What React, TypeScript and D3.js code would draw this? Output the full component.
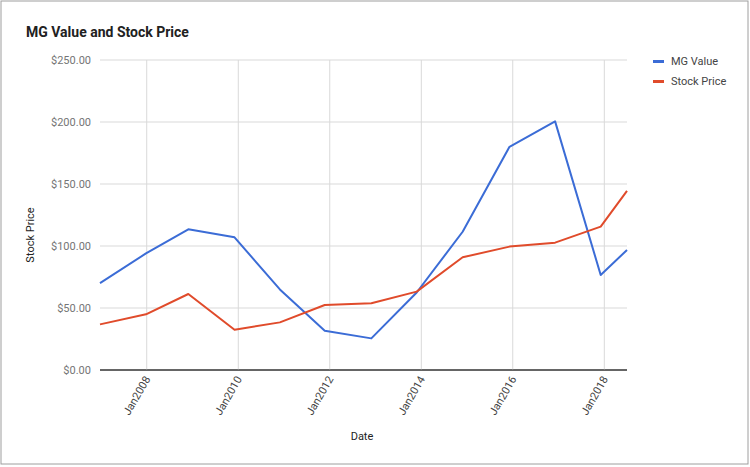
import React from "react";
import * as d3 from "d3";

const dates = [
  "2006-12-24", "2007-12-26", "2008-11-28", "2009-12-02", "2010-11-29",
  "2011-11-22", "2012-11-28", "2013-11-25", "2014-11-27", "2015-12-06",
  "2016-12-04", "2017-12-03", "2018-07-01",
];
const mgValue = [70, 94, 113.5, 107, 65, 31.7, 25.5, 62.5, 111.5, 180, 200.5, 76.6, 96.8];
const stockPrice = [36.8, 44.9, 61.3, 32.5, 38.4, 52.4, 53.8, 63.2, 90.9, 99.5, 102.7, 115.6, 144.4];
const yTicks = [0, 50, 100, 150, 200, 250];
const xTickYears = [2008, 2010, 2012, 2014, 2016, 2018];
const seriesNames = ["MG Value", "Stock Price"];
const seriesColors = ["#3b6cd6", "#e04b2b"];

const W = 750;
const H = 467;
const font = "Roboto, Arial, sans-serif";

export default function App() {
  const parse = d3.utcParse("%Y-%m-%d");
  const ds = dates.map((d) => parse(d) as Date);
  const x = d3.scaleUtc().domain(d3.extent(ds) as [Date, Date]).range([100, 627]);
  const y = d3.scaleLinear().domain([0, 250]).range([370, 60]);
  const fmtY = (v: number) => "$" + d3.format(",.2f")(v);
  const fmtX = d3.utcFormat("%b%Y");
  const line = d3
    .line<[Date, number]>()
    .x((d) => x(d[0]))
    .y((d) => y(d[1]));
  const series = [mgValue, stockPrice].map((vals) => vals.map((v, i) => [ds[i], v] as [Date, number]));
  const xTicks = xTickYears.map((yr) => new Date(Date.UTC(yr, 0, 1)));

  return (
    <svg
      width={W}
      height={H}
      style={{ position: "absolute", left: 0, top: 0, fontFamily: font, background: "#fff" }}
    >
      <rect x={1} y={1} width={747} height={463} fill="#fff" stroke="#9e9e9e" strokeWidth={1} />
      <text x={26} y={37} fontSize={14} fontWeight="bold" fill="#212121">
        MG Value and Stock Price
      </text>
      {yTicks.map((t) => (
        <g key={"y" + t}>
          <line x1={100} x2={627} y1={y(t)} y2={y(t)} stroke={t === 0 ? "#333" : "#d9d9d9"} strokeWidth={1} />
          <text x={91} y={y(t)} dy="0.35em" textAnchor="end" fontSize={11} fill="#757575">
            {fmtY(t)}
          </text>
        </g>
      ))}
      {xTicks.map((t, i) => (
        <g key={"x" + i}>
          <line x1={x(t)} x2={x(t)} y1={60} y2={370} stroke="#d9d9d9" strokeWidth={1} />
          <text
            transform={`translate(${x(t) + 4},${379}) rotate(-60)`}
            textAnchor="end"
            fontSize={11}
            fill="#444"
          >
            {fmtX(t)}
          </text>
        </g>
      ))}
      <line x1={100} x2={627} y1={y(0)} y2={y(0)} stroke="#333" strokeWidth={1} />
      {series.map((s, i) => (
        <path key={"s" + i} d={line(s) as string} fill="none" stroke={seriesColors[i]} strokeWidth={2} strokeLinejoin="round" />
      ))}
      <text transform="translate(34,235) rotate(-90)" textAnchor="middle" fontSize={11} fill="#222">
        Stock Price
      </text>
      <text x={362} y={440} textAnchor="middle" fontSize={11} fill="#222">
        Date
      </text>
      {seriesNames.map((n, i) => (
        <g key={"l" + i}>
          <rect x={653} y={60 + i * 20} width={11} height={3} fill={seriesColors[i]} />
          <text x={671} y={61.5 + i * 20} dy="0.35em" fontSize={11} fill="#444">
            {n}
          </text>
        </g>
      ))}
    </svg>
  );
}
